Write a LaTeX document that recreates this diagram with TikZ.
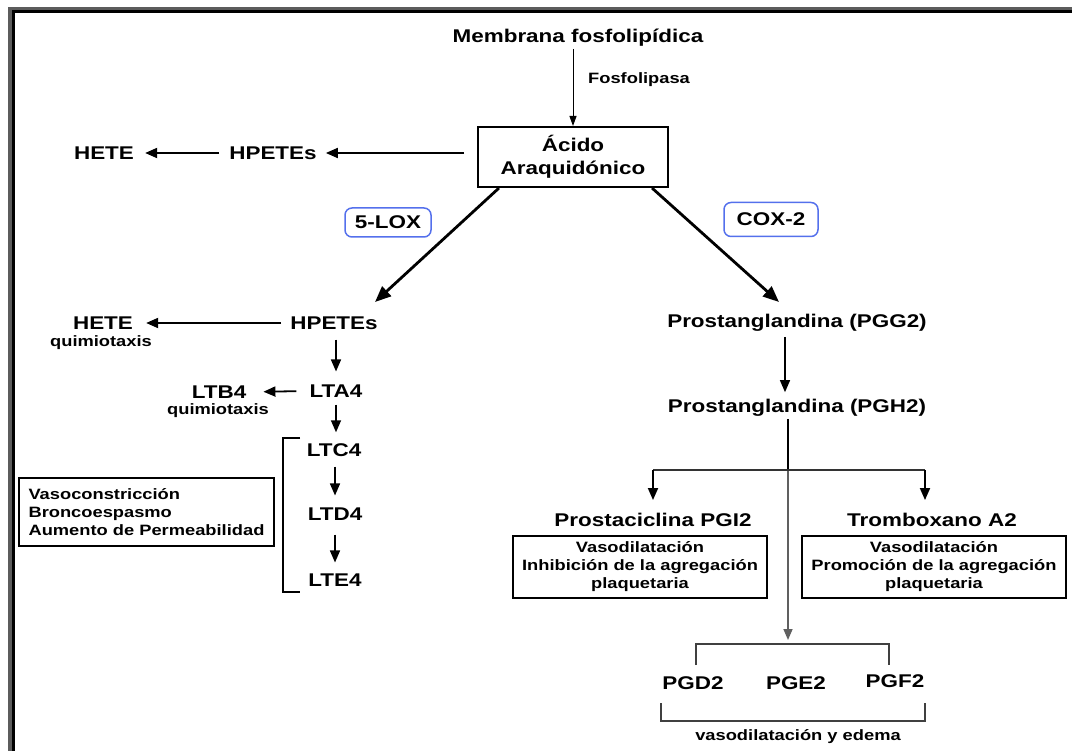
\documentclass[tikz,border=0pt]{standalone}
\usepackage{fontspec}
\setmainfont{Liberation Sans}[FakeStretch=1.22]
\usepackage{xcolor}
\usetikzlibrary{arrows.meta}
\definecolor{LoxBlue}{RGB}{84,112,236}
\definecolor{FrameGray}{RGB}{92,92,92}
\definecolor{StemGray}{RGB}{96,96,96}

\begin{document}
\begin{tikzpicture}[
    x=1pt, y=-1pt,
    >={Triangle[length=12pt,width=10pt]},
    line join=miter,
    lbl/.style={font=\fontsize{18.4}{23}\selectfont\bfseries, inner sep=2pt},
    note/.style={font=\fontsize{15}{18}\selectfont\bfseries, inner sep=2pt},
    effectbox/.style={draw, line width=2pt, inner sep=0pt, align=center},
    enzyme/.style={draw=LoxBlue, line width=1.5pt, rounded corners=7pt, inner sep=0pt,
                   font=\fontsize{18.4}{22}\selectfont\bfseries},
    flow/.style={->, line width=1.8pt},
    bigflow/.style={-{Triangle[length=16pt,width=13pt]}, line width=2.8pt},
    bracket/.style={line width=1.6pt, draw=black!75}
]
\useasboundingbox (0,0) rectangle (1072,751);

% window frame
\fill[FrameGray] (8,7) rectangle (1072,10);
\fill[FrameGray] (8,7) rectangle (12,751);
\fill[black] (12,10) rectangle (1072,13);
\fill[black] (12,10) rectangle (15,751);

% top
\node[lbl] (membrana) at (578,38) {Membrana fosfolipídica};
\node[note, anchor=west] (fosfolipasa) at (586,80) {Fosfolipasa};
\node[effectbox, minimum width=190pt, minimum height=60pt,
      font=\fontsize{18.4}{23}\selectfont\bfseries] (acido) at (573,157) {Ácido\\Araquidónico};

\node[lbl] (hpetesA) at (273,153) {HPETEs};
\node[lbl] (heteA) at (104,153) {HETE};

\node[enzyme, minimum width=86pt, minimum height=29pt] (lox) at (388,222.5) {5-LOX};
\node[enzyme, minimum width=94pt, minimum height=34pt] (cox) at (771,219.5) {COX-2};

\coordinate (loxend) at (375,302);
\coordinate (coxend) at (779,302);

\draw[->, line width=1pt, >={Triangle[length=10pt,width=7pt]}] (membrana.south -| acido.north) -- (acido.north);
\draw[flow, shorten <=13pt, shorten >=7pt] (acido.west |- hpetesA) -- (hpetesA.east);
\draw[flow, shorten <=8pt, shorten >=9pt] (hpetesA.west) -- (heteA.east);
\draw[bigflow] ([xshift=-74pt]acido.south) -- (loxend);
\draw[bigflow] ([xshift=79pt]acido.south) -- (coxend);

% lipoxygenase branch
\node[lbl] (hpetesB) at (334,323) {HPETEs};
\node[lbl] (heteB) at (103,323) {HETE};
\node[note] (quimioA) at (101,343) {quimiotaxis};
\node[lbl] (lta4) at (336,391) {LTA4};
\node[lbl] (ltb4) at (219,392) {LTB4};
\node[note] (quimioB) at (218,411) {quimiotaxis};
\node[lbl] (ltc4) at (334,450) {LTC4};
\node[lbl] (ltd4) at (335,514) {LTD4};
\node[lbl] (lte4) at (335,580) {LTE4};

\draw[flow, shorten <=7pt, shorten >=11pt] (hpetesB.west) -- (heteB.east);
\draw[flow, line width=1.5pt, shorten <=8pt, shorten >=11pt] (hpetesB.south -| lta4) -- (lta4.north);
\draw[flow, shorten <=11pt, shorten >=15pt] (lta4.west) -- (ltb4.east);
\draw[flow, line width=1.5pt, shorten <=5pt, shorten >=9pt] (lta4.south) -- (ltc4.north -| lta4);
\draw[flow, line width=1.5pt, shorten <=8pt, shorten >=10pt] (ltc4.south -| ltd4) -- (ltd4.north);
\draw[flow, line width=1.5pt, shorten <=12pt, shorten >=9pt] (ltd4.south) -- (lte4.north);

\draw[line width=2pt] (300,438) -| (283,592) -- (300,592);
\node[effectbox, minimum width=255pt, minimum height=68pt, align=left,
      font=\fontsize{15}{18}\selectfont\bfseries] (vasoc) at (146.5,512)
      {Vasoconstricción\\Broncoespasmo\\Aumento de Permeabilidad};

% cyclooxygenase branch
\node[lbl] (pgg2) at (797,323) {Prostanglandina (PGG2)};
\node[lbl] (pgh2) at (797,408) {Prostanglandina (PGH2)};
\draw[flow, line width=1.3pt, shorten <=3pt, shorten >=5pt] ([xshift=-12pt]pgg2.south) -- ([xshift=-12pt]pgh2.north);

\node[lbl] (pgi2) at (653,520) {Prostaciclina PGI2};
\node[lbl] (txa2) at (932,520) {Tromboxano A2};
\node[effectbox, minimum width=254pt, minimum height=62pt,
      font=\fontsize{15}{18}\selectfont\bfseries] (pgi2fx) at (640,567)
      {Vasodilatación\\Inhibición de la agregación\\plaquetaria};
\node[effectbox, minimum width=264pt, minimum height=62pt,
      font=\fontsize{15}{18}\selectfont\bfseries] (txa2fx) at (934,567)
      {Vasodilatación\\Promoción de la agregación\\plaquetaria};

\coordinate (branch) at (788,470);
\coordinate (pgjoin) at (788,644);
\draw[black, line width=1.6pt] ([xshift=-9pt]pgh2.south) -- (branch);
\draw[StemGray, ->, line width=1.6pt, >={Triangle[length=11pt,width=9pt]}, shorten >=4pt] (branch) -- (pgjoin);
\draw[black!80, line width=2pt] (branch -| pgi2) -- ([xshift=-7pt]branch -| txa2);
\draw[flow, shorten >=11pt] (branch -| pgi2) -- (pgi2.north);
\draw[flow, shorten >=11pt] ([xshift=-7pt]branch -| txa2) -- ([xshift=-7pt]txa2.north);

\node[lbl] (pgd2) at (693,683) {PGD2};
\node[lbl] (pge2) at (796,683) {PGE2};
\node[lbl] (pgf2) at (895,681) {PGF2};
\draw[bracket] (696,665) |- (889,644) -- (889,665);
\draw[bracket] (661,703) |- (925,721) -- (925,703);
\node[note] (edema) at (798,737) {vasodilatación y edema};

\end{tikzpicture}
\end{document}
